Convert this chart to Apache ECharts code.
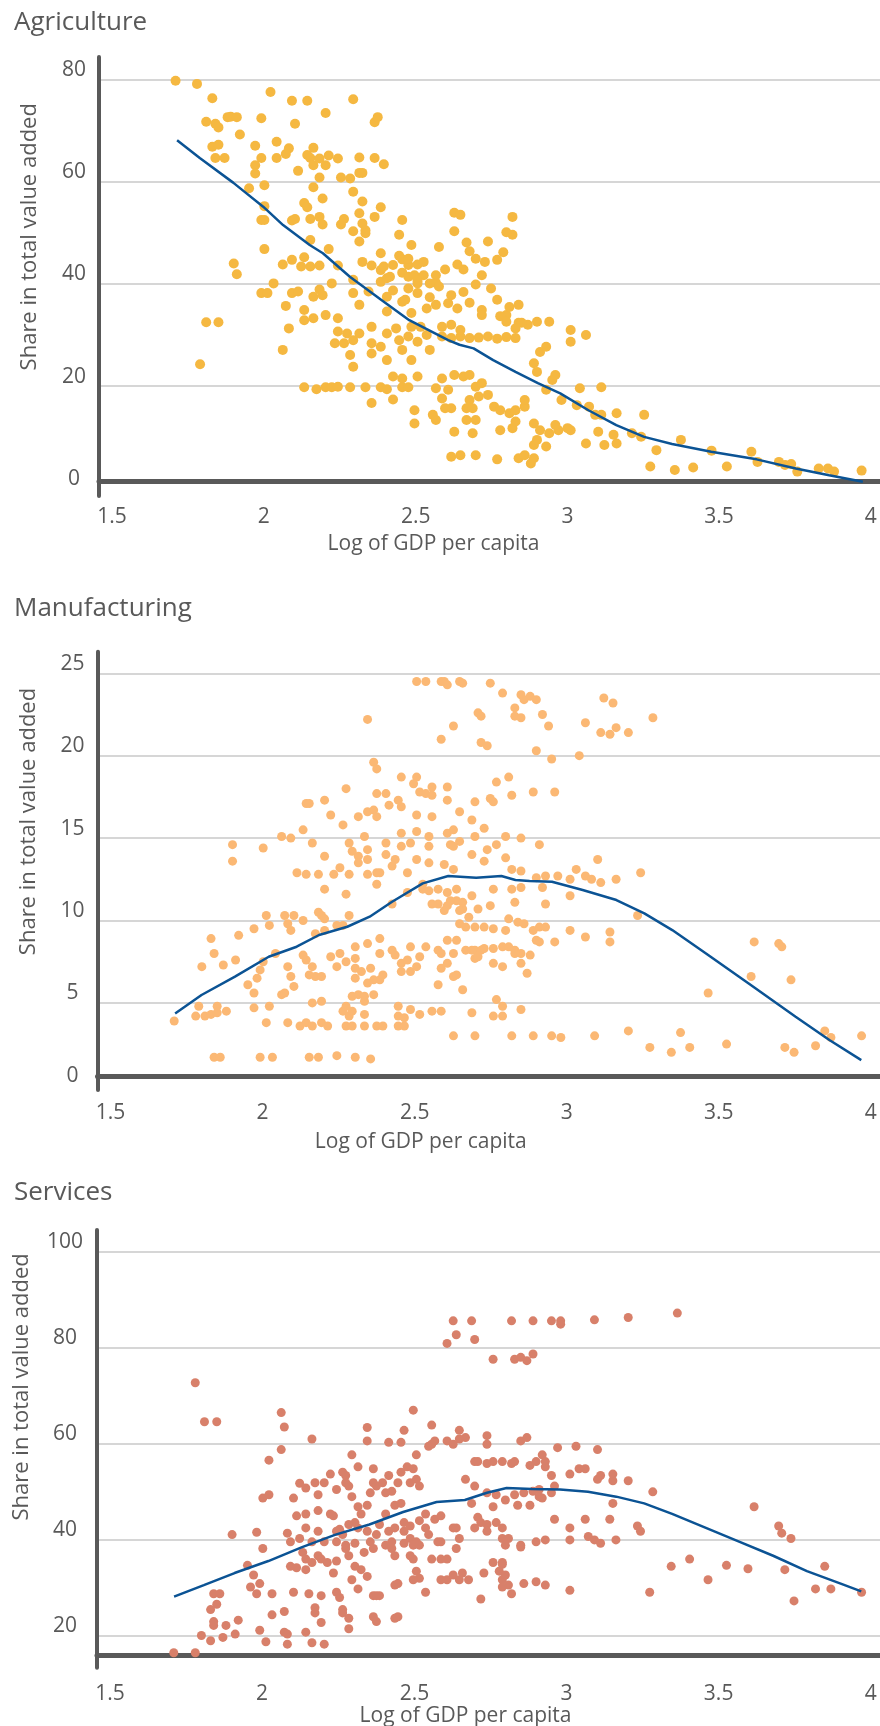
<!DOCTYPE html>
<html><head><meta charset="utf-8">
<script src="https://cdn.jsdelivr.net/npm/echarts@6/dist/echarts.min.js"></script>
<style>html,body{margin:0;padding:0;background:#fff}#c{width:880px;height:1726px}</style>
</head><body><div id="c"></div>
<script>
const panelTitles = ['Agriculture', 'Manufacturing', 'Services'];
const xTickLabels = ['1.5', '2', '2.5', '3', '3.5', '4'];
const yAxisName = 'Share in total value added';
const xAxisName = 'Log of GDP per capita';

const agriPoints = [
[1.75,79.7],[1.82,79.1],[1.87,76.3],[1.85,71.7],[1.88,71.3],[1.89,70.6],[1.92,72.6],[1.93,72.7],[1.95,72.6],[1.96,69.2],[1.87,66.8],[1.89,67.2],[1.88,64.6],[1.91,64.6],
[2.03,72.4],[2.06,77.5],[2.01,67.0],[2.03,64.6],[2.01,63.2],[2.01,61.6],[1.99,58.7],[2.04,59.3],[2.08,67.8],[2.08,64.6],[2.11,65.4],[2.12,66.5],[2.13,75.8],[2.14,71.3],[2.18,75.8],[2.24,73.4],[2.33,76.1],[2.40,71.6],[2.41,72.6],
[2.15,62.1],[2.18,65.2],[2.19,64.6],[2.20,66.6],[2.20,63.2],[2.22,64.5],[2.24,63.2],[2.25,65.1],[2.28,64.5],[2.22,60.8],[2.29,60.8],[2.32,60.6],[2.35,64.7],[2.35,61.7],[2.36,61.7],[2.40,64.6],[2.43,63.4],
[2.20,58.9],[2.33,58.0],[2.23,56.7],[2.36,56.1],[2.17,55.8],[2.18,55.0],[2.03,52.5],[2.04,52.5],[2.04,55.2],[2.42,55.0],[2.22,53.1],[2.19,52.7],[2.13,52.4],[2.14,52.7],[2.23,51.6],[2.29,51.6],[2.30,52.7],[2.35,53.8],[2.36,51.8],[2.40,53.1],[2.49,52.5],
[2.33,50.3],[2.37,50.5],[2.37,49.9],[2.48,49.6],[2.52,47.6],[2.19,48.6],[2.25,46.8],[2.04,46.8],[2.35,48.3],[2.42,46.0],[2.48,45.5],[2.49,44.8],[2.51,43.7],[2.56,44.3],[2.61,47.2],
[1.94,44.0],[1.95,41.9],[2.13,44.7],[2.10,43.8],[2.17,45.2],[2.16,43.4],[2.19,43.4],[2.22,43.6],[2.28,43.6],[2.36,44.3],[2.39,43.6],[2.42,42.7],[2.43,43.4],[2.46,43.7],
[2.26,40.1],[2.33,40.8],[2.42,40.4],[2.44,41.1],[2.45,41.4],[2.49,42.2],[2.51,41.4],[2.53,41.7],[2.54,40.1],[2.56,41.7],[2.58,40.1],[2.60,40.2],
[2.03,38.2],[2.05,38.2],[2.07,40.1],[2.13,38.2],[2.15,38.5],[2.20,37.5],[2.22,38.9],[2.23,37.8],[2.33,38.2],[2.38,38.5],[2.44,37.5],[2.46,38.7],[2.51,39.1],[2.54,38.2],
[1.85,32.5],[1.89,32.5],[1.83,24.3],[2.10,27.1],[2.12,31.3],[2.11,35.7],[2.17,32.9],[2.20,33.3],[2.24,33.9],[2.17,34.9],
[2.17,19.8],[2.21,19.4],[2.24,19.8],[2.26,19.8],[2.28,19.9],[2.32,19.8],[2.37,19.8],[2.42,19.8],[2.44,19.4],[2.49,19.8],[2.51,19.8],[2.39,16.7],[2.46,17.4],
[2.28,33.3],[2.31,30.3],[2.33,29.0],[2.28,30.7],[2.30,28.4],[2.32,26.1],[2.33,23.8],[2.27,28.4],
[2.35,30.3],[2.39,31.6],[2.39,28.4],[2.42,27.7],[2.44,30.3],[2.47,31.3],[2.48,29.0],
[2.39,26.4],[2.44,25.1],[2.46,21.9],[2.49,21.5],[2.54,21.9],[2.52,25.1],[2.49,27.1],
[2.51,29.7],[2.54,28.7],[2.57,30.0],[2.58,27.1],[2.55,31.6],[2.52,31.6],
[2.60,19.6],[2.64,19.3],[2.62,21.5],[2.66,22.2],[2.69,21.9],[2.71,22.2],[2.73,19.9],[2.75,20.6],
[2.53,15.3],[2.53,12.7],[2.59,14.4],[2.60,13.4],[2.62,17.6],[2.65,15.7],[2.66,11.1],
[2.63,15.7],[2.70,15.7],[2.71,17.3],[2.72,15.7],
[2.70,13.4],[2.73,13.4],[2.74,18.0],[2.77,18.3],[2.79,16.0],[2.81,15.3],[2.84,14.7],[2.86,15.3],[2.89,16.0],[2.89,17.3],
[2.72,10.8],[2.81,11.4],[2.85,11.8],[2.86,13.1],[2.92,12.7],[2.94,11.4],[3.00,11.4],[3.04,11.4],
[2.65,6.2],[2.68,6.5],[2.73,6.5],[2.80,5.7],[2.87,5.9],[2.89,6.5],[2.91,4.9],[2.92,5.9],
[2.92,8.5],[2.93,9.5],[2.96,8.2],[2.97,10.8],[2.99,12.4],[3.03,11.8],
[2.92,24.5],[2.93,22.8],[2.96,19.3],[2.98,21.2],[2.99,22.2],[3.01,17.3],
[2.90,32.0],[2.93,32.6],[2.97,32.6],[2.96,27.7],[2.94,26.7],
[3.04,31.0],[3.04,28.7],[3.09,30.0],
[3.07,19.6],[3.06,16.3],[3.10,16.0],[3.09,8.8],[3.13,11.1],
[3.12,14.4],[3.14,14.4],[3.14,19.8],[3.19,14.7],[3.15,8.5],[3.18,10.5],[3.19,8.8],[3.24,10.8],[3.28,14.4],[3.27,10.1],[3.32,7.5],
[3.30,4.3],[3.38,3.6],[3.44,4.1],[3.40,9.5],[3.50,7.4],[3.55,4.3],[3.63,7.2],[3.65,5.2],
[3.72,5.2],[3.74,4.6],[3.76,4.8],[3.78,3.3],[3.85,3.9],[3.88,3.9],[3.90,3.3],[3.99,3.5],
[2.35,35.9],[2.44,34.6],[2.49,36.5],[2.52,34.3],[2.57,35.2],[2.60,35.9],[2.64,36.2],[2.67,35.2],[2.75,34.9],[2.80,36.9],[2.83,33.9],[2.84,35.5],[2.87,35.9],[2.75,33.9],
[2.62,29.7],[2.65,29.4],[2.68,29.7],[2.71,29.4],[2.74,29.5],[2.77,29.7],[2.80,29.3],[2.83,29.6],[2.86,29.4],
[2.62,31.6],[2.65,32.0],[2.68,31.0],
[2.66,53.9],[2.68,53.5],[2.66,50.3],[2.70,48.1],[2.73,44.9],[2.85,53.1],[2.85,49.6],[2.83,50.1],[2.77,48.3],[2.76,44.3],[2.80,44.7],[2.82,46.2],[2.73,39.9],[2.71,36.3],[2.81,33.7],[2.83,32.6],[2.87,32.4],[2.86,31.3],[2.88,32.4],
[2.61,39.5],[2.65,37.8],[2.69,38.4],[2.58,37.4],[2.54,40.6],[2.60,41.7],[2.63,42.8],[2.67,43.8],[2.54,43.8],[2.51,44.9],[2.50,36.9],[2.71,46.4],[2.69,42.8],[2.75,41.7],[2.78,39.1]
];
const agriTrend = [
[1.755,68.1],[1.829,64.6],[1.938,59.8],[2.036,55.1],[2.101,51.5],[2.188,47.6],[2.231,46.0],[2.319,41.4],[2.421,36.9],[2.513,32.9],[2.64,29.0],[2.677,28.1],[2.723,27.4],[2.787,25.1],[2.86,22.8],[2.933,20.6],[3.006,18.6],[3.098,15.3],[3.189,12.4],[3.28,10.1],[3.371,8.7],[3.499,7.2],[3.647,5.7],[3.775,3.9],[3.884,2.6],[3.994,1.3]
];

const manufPoints = [
[2.54,24.5],[2.57,24.5],[2.62,24.5],[2.63,24.5],[2.64,24.3],[2.68,24.5],[2.69,24.4],
[2.78,24.4],[2.82,23.8],[2.88,23.7],[2.91,23.6],[2.93,23.4],[2.89,23.4],[2.86,22.9],[2.86,22.4],[2.88,22.3],[2.95,22.5],[2.97,21.8],[2.74,22.6],[2.75,22.4],
[2.66,21.8],[2.38,22.2],[2.62,21.0],[2.75,20.8],[2.77,20.6],[2.93,20.3],[2.98,19.8],[3.07,20.0],[3.09,22.0],[3.15,23.5],[3.18,23.2],[3.14,21.4],[3.17,21.3],[3.19,21.7],[3.23,21.4],[3.31,22.3],
[2.40,19.6],[2.41,19.2],
[2.49,18.7],[2.54,18.7],[2.53,18.3],[2.55,17.8],[2.57,17.7],[2.59,17.6],[2.59,18.1],[2.64,18.1],
[2.84,18.7],[2.80,18.4],[2.85,17.6],[2.92,17.8],[2.99,17.8],
[2.31,18.0],[2.41,17.7],[2.44,17.7],[2.18,17.1],[2.19,17.1],[2.24,17.3],
[2.26,16.4],[2.30,15.8],[2.35,16.3],[2.38,16.6],[2.40,16.7],[2.41,16.3],[2.45,17.0],[2.48,17.3],[2.49,16.9],[2.54,16.4],[2.59,16.3],[2.64,17.3],[2.68,16.6],[2.73,17.2],[2.78,17.4],[2.79,17.2],[2.72,16.1],[2.76,15.6],
[2.17,15.5],[2.10,15.1],[2.13,15.0],[2.20,14.7],[2.24,13.9],[2.29,13.2],[2.32,14.7],[2.33,14.2],[2.37,15.1],[2.35,13.9],[2.35,13.5],[2.38,14.3],[2.38,13.7],[2.44,14.7],[2.44,14.0],[2.47,13.7],[2.49,14.5],[2.49,15.3],[2.52,14.7],[2.54,15.4],[2.54,13.7],[2.58,15.1],[2.58,14.5],[2.58,13.5],[2.64,15.3],[2.65,14.6],[2.68,14.8],[2.66,14.5],[2.66,15.5],[2.72,14.0],[2.73,15.1],[2.77,14.3],[2.80,14.6],[2.83,15.1],[2.88,15.0],[2.94,14.6],[2.83,13.8],[2.76,13.6],
[1.94,14.6],[1.94,13.6],[2.04,14.4],
[2.15,12.9],[2.18,12.8],[2.22,12.8],[2.27,12.8],[2.32,12.8],[2.38,12.8],[2.41,12.9],[2.42,12.9],[2.46,13.3],[2.51,12.9],[2.63,13.4],[2.66,13.1],[2.85,13.1],[2.88,13.0],[2.93,12.6],[2.96,12.7],[3.00,12.7],[3.04,12.5],[3.06,13.1],[3.09,12.7],[3.11,12.5],[3.13,13.7],[3.14,12.3],[3.19,12.5],[3.27,12.9],
[2.24,11.9],[2.31,11.6],[2.41,12.2],[2.46,11.0],[2.51,11.7],[2.56,12.2],[2.58,11.8],[2.61,11.9],[2.64,11.7],[2.67,11.9],[2.67,11.2],[2.69,11.1],[2.69,10.7],[2.61,11.0],[2.64,10.9],[2.72,11.5],[2.79,11.9],[2.85,11.9],[2.88,12.0],[2.86,11.1],[2.95,12.0],[2.96,11.0],[3.04,11.5],
[2.05,10.3],[2.11,10.3],[2.14,10.3],[2.17,10.0],[2.22,10.5],[2.23,10.3],[2.24,10.1],[2.28,9.7],[2.32,10.3],[2.30,9.7],
[2.01,9.5],[2.06,9.7],[2.12,9.8],[2.13,9.4],[2.21,9.2],[2.24,9.4],
[1.96,9.1],[1.87,8.9],[1.84,7.2],[1.88,8.0],[1.91,7.3],[1.95,7.6],[1.99,6.1],[2.01,5.6],
[2.04,7.5],[2.03,7.0],[2.02,6.5],[2.08,8.0],[2.12,7.2],[2.13,6.6],[2.14,6.0],[2.10,5.5],[2.11,5.6],
[2.17,7.9],[2.18,7.6],[2.20,7.2],[2.21,6.6],[2.19,6.7],[2.23,6.6],[2.26,7.8],[2.28,7.2],[2.29,8.0],[2.31,7.5],[2.34,7.7],[2.34,8.4],[2.38,8.6],
[2.34,7.1],[2.36,6.9],[2.39,7.1],[2.40,6.4],[2.38,6.2],[2.34,6.5],[2.35,5.5],[2.33,5.4],[2.40,5.5],
[2.42,8.9],[2.42,8.0],[2.46,8.2],[2.42,6.4],[2.43,6.7],[2.47,7.9],[2.49,7.4],[2.51,7.6],[2.49,6.9],[2.52,6.9],[2.54,7.2],[2.55,7.8],[2.52,8.4],
[2.57,8.4],[2.61,8.2],[2.62,8.0],[2.64,8.8],[2.66,8.0],[2.67,8.8],[2.70,8.2],[2.72,8.2],[2.73,8.2],[2.75,8.2],[2.76,8.3],[2.79,8.3],[2.82,8.4],[2.84,8.4],[2.86,8.2],[2.88,8.0],
[2.68,9.8],[2.70,9.6],[2.73,9.6],[2.76,9.6],[2.79,9.5],[2.83,9.4],[2.84,10.1],[2.87,9.9],[2.89,9.8],[2.92,9.4],[2.93,8.8],[2.94,9.6],[2.96,9.6],[2.99,8.7],[2.94,8.7],
[3.04,9.4],[3.09,9.0],[3.17,9.3],[3.17,8.7],[3.26,10.3],
[2.56,11.9],[2.59,11.0],[2.63,10.6],[2.65,11.2],[2.68,10.6],[2.71,10.2],[2.74,10.7],[2.78,10.9],
[2.62,7.1],[2.64,7.4],[2.66,6.6],[2.73,7.7],[2.74,7.8],[2.79,7.4],[2.82,7.2],[2.86,8.0],[2.88,7.4],[2.90,6.8],[2.91,7.9],
[2.61,6.1],[2.67,6.7],[2.69,5.8],
[1.75,3.9],[1.82,4.2],[1.83,4.8],[1.85,4.2],[1.87,4.3],[1.89,4.8],[1.89,4.4],[1.92,4.5],[2.01,4.7],[2.06,4.8],[2.05,3.8],[2.12,3.8],[2.16,3.6],[2.18,3.8],[2.20,3.6],[2.23,3.8],[2.25,3.6],[2.20,5.0],[2.23,5.1],[2.30,4.5],[2.31,4.8],[2.32,4.2],[2.33,4.5],[2.31,3.6],[2.33,3.6],[2.37,3.6],[2.37,4.3],[2.41,3.6],[2.43,3.6],[2.37,5.1],[2.37,5.4],[2.48,4.8],[2.48,4.2],[2.50,4.1],[2.48,3.6],[2.50,3.6],[2.52,4.6],[2.55,4.3],[2.59,4.5],[2.62,4.5],[2.72,4.4],[2.79,4.2],[2.82,4.2],[2.80,5.2],[2.82,4.8],[2.88,4.6],
[2.66,3.0],[2.73,3.0],[2.85,3.0],[2.92,3.0],[2.98,3.0],[3.01,2.9],[3.12,3.0],[3.23,3.3],[3.30,2.3],[3.37,2.0],[3.40,3.2],[3.43,2.3],[3.55,2.5],[3.74,2.3],[3.77,2.0],[3.84,2.4],[3.87,3.3],[3.89,2.9],[3.99,3.0],
[1.88,1.7],[1.90,1.7],[2.03,1.7],[2.07,1.7],[2.19,1.7],[2.22,1.7],[2.28,1.8],[2.34,1.7],[2.39,1.6],
[3.49,5.6],[3.64,8.7],[3.72,8.6],[3.73,8.4],[3.63,6.6],[3.76,6.4]
];
const manufTrend = [
[1.753,4.36],[1.839,5.48],[1.948,6.59],[2.058,7.8],[2.149,8.41],[2.222,9.12],[2.314,9.62],[2.387,10.23],[2.46,11.14],[2.56,12.25],[2.643,12.7],[2.734,12.6],[2.816,12.7],[2.862,12.46],[2.908,12.4],[2.981,12.35],[3.081,11.85],[3.191,11.24],[3.282,10.43],[3.373,9.42],[3.483,8.0],[3.629,6.08],[3.775,4.16],[3.885,2.75],[3.989,1.53]
];

const servPoints = [
[1.75,16.5],[1.82,16.5],[1.82,72.7],[1.85,64.6],[1.89,64.6],
[2.10,66.5],[2.11,63.5],[2.10,58.8],[2.06,56.6],[2.04,48.7],[2.06,49.4],[2.20,61.0],[2.04,38.2],[2.02,41.6],[1.94,41.1],[1.99,34.7],[2.01,32.7],[2.03,30.9],[2.00,30.2],[2.02,28.8],
[1.88,28.8],[1.90,28.8],[1.89,26.6],[1.87,25.5],[1.88,23.0],[1.88,22.2],[1.92,22.2],[1.96,23.3],[1.84,20.1],[1.87,19.0],[1.91,19.7],[1.95,20.4],[2.03,21.2],[2.05,18.8],[2.07,24.4],[2.07,28.8],[2.11,25.1],[2.11,20.8],[2.12,20.4],[2.12,18.3],[2.14,29.1],[2.18,20.8],[2.20,18.6],[2.24,18.3],[2.23,22.8],[2.21,25.9],[2.21,24.8],[2.19,28.8],[2.23,28.4],
[2.12,41.4],[2.13,39.6],[2.15,45.0],[2.14,48.7],[2.16,51.8],[2.18,50.8],[2.16,40.3],[2.17,37.4],[2.18,36.0],[2.13,34.5],[2.15,34.2],[2.18,33.8],[2.20,39.6],[2.18,45.4],[2.18,42.5],[2.21,51.9],[2.22,49.4],[2.22,46.1],[2.22,41.8],[2.24,51.9],[2.24,39.6],[2.22,36.7],[2.20,35.3],[2.23,36.0],
[2.26,53.7],[2.28,50.5],[2.27,45.0],[2.28,39.6],[2.28,35.6],[2.27,33.1],[2.29,28.0],[2.30,24.8],[2.32,23.7],[2.30,25.5],[2.32,21.5],[2.28,29.1],
[2.30,54.1],[2.31,53.4],[2.31,51.9],[2.32,51.2],[2.33,57.7],[2.35,55.2],[2.33,49.0],[2.35,46.9],[2.34,43.6],[2.36,45.4],[2.38,47.2],[2.40,54.8],[2.40,51.9],[2.39,49.8],[2.41,51.2],[2.43,51.9],[2.45,53.4],[2.44,49.8],[2.46,50.1],[2.48,51.9],[2.49,54.1],[2.51,55.2],[2.52,51.9],[2.54,52.6],[2.55,51.2],[2.53,54.8],
[2.38,63.4],[2.38,60.6],[2.45,60.3],[2.49,60.3],[2.50,62.8],[2.53,67.0],[2.54,57.7],[2.58,59.5],[2.59,63.9],[2.60,60.6],[2.59,59.9],[2.64,60.6],[2.66,59.9],[2.68,62.8],[2.68,61.0],[2.70,61.3],[2.77,61.7],[2.77,59.9],[2.88,60.6],[2.90,61.3],[3.00,59.2],[3.06,59.5],[3.13,58.8],
[2.64,80.9],[2.67,82.7],[2.66,85.6],[2.72,85.6],[2.73,81.7],[2.79,77.6],[2.85,85.6],[2.86,77.6],[2.88,78.0],[2.90,77.3],[2.92,78.7],[2.92,85.6],[2.98,85.6],[3.01,85.6],[3.01,84.9],[3.12,85.8],[3.23,86.3],[3.39,87.2],
[2.46,38.2],[2.47,36.7],[2.50,41.8],[2.52,42.9],[2.52,40.3],[2.54,39.6],[2.50,39.3],[2.53,38.9],[2.55,38.9],[2.57,42.5],[2.58,41.1],[2.61,39.6],[2.55,44.0],[2.57,45.4],[2.60,44.3],[2.62,45.0],[2.62,39.6],[2.66,42.5],[2.64,36.0],[2.67,38.2],[2.68,40.3],[2.67,42.5],
[2.52,36.7],[2.53,36.0],[2.54,33.5],[2.55,32.0],[2.53,31.7],[2.57,29.1],[2.59,36.0],[2.62,36.0],[2.62,31.7],[2.64,31.7],[2.66,32.7],[2.68,31.7],[2.69,33.1],[2.71,31.7],[2.75,27.7],[2.76,33.1],[2.81,33.5],[2.82,35.3],[2.82,31.7],[2.83,32.7],[2.84,30.6],[2.82,30.2],[2.85,28.8],
[2.38,32.4],[2.40,28.4],[2.41,28.4],[2.41,23.0],[2.40,24.0],[2.42,28.4],[2.47,30.6],[2.48,30.9],[2.48,24.0],[2.47,23.7],
[2.70,52.6],[2.73,56.3],[2.74,56.3],[2.77,55.9],[2.79,56.3],[2.82,56.3],[2.85,55.9],[2.86,56.3],[2.91,55.5],[2.93,56.3],[2.95,57.7],[2.96,56.3],[2.96,55.2],[2.98,53.4],[2.99,51.2],[3.04,53.7],[3.07,54.8],[3.09,54.8],[3.13,52.6],[3.14,53.4],[3.18,52.3],[3.18,53.7],[3.23,52.3],[3.31,50.0],
[2.73,51.2],[2.77,49.8],[2.80,49.4],[2.83,48.3],[2.86,49.4],[2.89,49.8],[2.92,50.1],[2.94,50.5],[2.98,49.8],[2.79,46.9],[2.87,47.2],[2.91,47.2],[2.94,49.0],[2.95,48.7],
[2.72,47.6],[2.74,44.7],[2.75,43.6],[2.73,42.5],[2.77,43.2],[2.80,43.6],[2.82,42.5],[2.77,41.8],[2.82,40.3],[2.84,40.3],[2.88,38.9],[2.93,39.6],[2.96,40.0],[2.99,44.3],[3.04,42.5],[3.04,40.0],[3.09,44.3],[3.10,40.7],[3.12,40.0],[3.14,39.3],[3.17,44.3],[3.18,47.6],[3.19,40.0],[3.26,42.9],[3.27,41.8],
[2.79,35.3],[2.82,34.9],[2.83,38.9],[2.88,38.5],[2.89,30.9],[2.93,31.3],[2.96,30.6],[3.04,29.5],[3.30,29.1],[3.37,34.5],[3.43,36.0],[3.49,31.7],[3.55,34.7],[3.62,34.0],[3.64,46.9],[3.72,42.9],[3.73,41.4],[3.74,33.8],[3.76,40.3],[3.77,27.3],[3.84,29.8],[3.87,34.5],[3.89,29.8],[3.99,29.1],
[2.35,42.5],[2.38,41.8],[2.39,39.6],[2.41,41.1],[2.42,43.2],[2.44,45.4],[2.45,41.8],[2.47,42.5],[2.47,47.2],[2.49,47.6],[2.50,43.6],[2.46,39.6],[2.44,38.9],[2.40,38.2],[2.37,37.4],[2.34,39.3],[2.31,38.2],[2.30,41.1],[2.32,43.2],[2.29,42.2],
[2.26,45.4],[2.28,41.8],[2.31,38.9],[2.32,36.7],[2.34,34.5],[2.36,33.8],[2.33,31.7],[2.35,29.8],[2.25,35.3]
];
const servTrend = [
[1.751,28.2],[1.848,30.6],[1.948,33.1],[2.058,35.6],[2.168,38.5],[2.277,41.1],[2.387,43.2],[2.497,45.8],[2.606,47.9],[2.698,48.3],[2.77,49.8],[2.834,50.8],[2.917,50.6],[3.008,50.5],[3.099,50.0],[3.191,49.0],[3.282,47.6],[3.373,45.4],[3.483,42.5],[3.593,39.6],[3.702,36.7],[3.812,33.5],[3.922,30.9],[3.989,29.3]
];

const FONT = '"Open Sans", "Liberation Sans", sans-serif';
const TXT = '#595959';
const AXIS = '#595959';
const GRIDC = '#C8C8C8';
const TREND = '#0B5394';
const H = 1726;

const panels = [
  {title: panelTitles[0], points: agriPoints, trend: agriTrend, color: '#F5B841', size: 10,
   left: 99, top: 57, plotBottomPx: 488.5, yMin: 0, lineBottomPx: 496, yMax: 84.36, yInterval: 20, axisAt: 1.47,
   yLabelMargin: 25, xLabelMargin: 18, xNameGap: 45, titleTop: 5, yNameShift: 36, xNameShift: 56, yNameGap: 58},
  {title: panelTitles[1], points: manufPoints, trend: manufTrend, color: '#FBB874', size: 9,
   left: 97.5, top: 651.7, plotBottomPx: 1085.3, yMin: 0, lineBottomPx: 1090, yMax: 26.31, yInterval: 5, axisAt: 0.52,
   yLabelMargin: 25, xLabelMargin: 17, xNameGap: 46, titleTop: 591, yNameShift: 47, xNameShift: 68, yNameGap: 58},
  {title: panelTitles[2], points: servPoints, trend: servTrend, color: '#D8806A', size: 9,
   left: 97, top: 1230, plotBottomPx: 1667.7, yMin: 13.4, lineBottomPx: 1667.7, yMax: 104.5, yInterval: 20, axisAt: 16,
   yLabelMargin: 32, xLabelMargin: 16, xNameGap: 38, titleTop: 1175, yNameShift: 62, xNameShift: 23, yNameGap: 64}
];

const xShift = [26, 23, 21, 18, 15, 12];
const rich = {};
xShift.forEach((p, k) => { rich['t' + k] = {padding: [0, 0, 0, p], fontSize: 21, color: TXT, fontFamily: FONT}; });

const option = {animation: false, backgroundColor: '#fff', title: [], grid: [], xAxis: [], yAxis: [], series: []};

panels.forEach((p) => {
  const gP = option.grid.length;
  option.grid.push({left: p.left, right: 0, top: p.top, bottom: H - p.plotBottomPx, outerBoundsMode: 'none'});
  const gY = option.grid.length;
  option.grid.push({left: p.left, width: 20, top: p.top, bottom: H - p.lineBottomPx, outerBoundsMode: 'none'});

  const yP = option.yAxis.length;
  const isNiceMin = Math.abs(p.yMin / p.yInterval - Math.round(p.yMin / p.yInterval)) < 1e-9;
  const yAx = {
    gridIndex: gP, type: 'value', min: p.yMin, max: p.yMax,
    axisLine: {show: false}, axisTick: {show: false},
    splitLine: {show: true, showMinLine: false, showMaxLine: false, lineStyle: {color: GRIDC, width: 1.5}},
    axisLabel: {showMaxLabel: false, showMinLabel: isNiceMin, align: 'center', verticalAlign: 'bottom', lineHeight: 19,
      margin: p.yLabelMargin, fontSize: 21, color: TXT, fontFamily: FONT,
      formatter: (v) => (Math.abs(v / p.yInterval - Math.round(v / p.yInterval)) < 1e-6 ? String(Math.round(v)) : '')},
    name: yAxisName, nameLocation: 'middle', nameRotate: 90, nameGap: p.yNameGap,
    nameTextStyle: {fontSize: 22, color: TXT, fontFamily: FONT, padding: [0, 0, 0, p.yNameShift * 2]}
  };
  if (isNiceMin) { yAx.interval = p.yInterval; } else { yAx.minInterval = p.yInterval; yAx.maxInterval = p.yInterval; }
  option.yAxis.push(yAx);
  const yH = option.yAxis.length;
  option.yAxis.push({gridIndex: gP, type: 'value', min: p.yMin - p.axisAt, max: p.yMax - p.axisAt, show: false});

  const xP = option.xAxis.length;
  option.xAxis.push({
    gridIndex: gP, type: 'value', min: 1.5, max: 4.05, interval: 0.5,
    axisLine: {show: true, onZero: true, onZeroAxisIndex: yH, lineStyle: {color: AXIS, width: 5}},
    axisTick: {show: false}, splitLine: {show: false},
    axisLabel: {showMaxLabel: false, margin: p.xLabelMargin, fontSize: 21, color: TXT, fontFamily: FONT, rich: rich,
      formatter: (v) => {
        const k = Math.round((v - 1.5) / 0.5);
        if (Math.abs(v - 1.5 - k * 0.5) > 1e-6 || k < 0 || k >= xTickLabels.length) return '';
        return '{t' + k + '|' + xTickLabels[k] + '}';
      }},
    name: xAxisName, nameLocation: 'middle', nameGap: p.xNameGap,
    nameTextStyle: {fontSize: 21, color: TXT, fontFamily: FONT, padding: [0, p.xNameShift * 2, 0, 0]}
  });

  option.xAxis.push({gridIndex: gY, type: 'value', min: 0, max: 1, show: false});
  option.yAxis.push({gridIndex: gY, type: 'value', min: 0, max: 1,
    axisLine: {show: true, onZero: false, lineStyle: {color: AXIS, width: 4}},
    axisTick: {show: false}, axisLabel: {show: false}, splitLine: {show: false}});

  option.series.push({type: 'scatter', xAxisIndex: xP, yAxisIndex: yP, data: p.points,
    symbolSize: p.size, itemStyle: {color: p.color, opacity: 1}, silent: true, z: 2, clip: false});
  option.series.push({type: 'line', xAxisIndex: xP, yAxisIndex: yP, data: p.trend,
    showSymbol: false, symbol: 'none', lineStyle: {color: TREND, width: 2.5}, z: 3, silent: true});

  option.title.push({text: p.title, left: 9, top: p.titleTop,
    textStyle: {fontSize: 26, fontWeight: 'normal', color: TXT, fontFamily: FONT}});
});

const chart = echarts.init(document.getElementById('c'), null, {renderer: 'canvas', width: 880, height: 1726});
chart.setOption(option);
</script>
</body></html>
